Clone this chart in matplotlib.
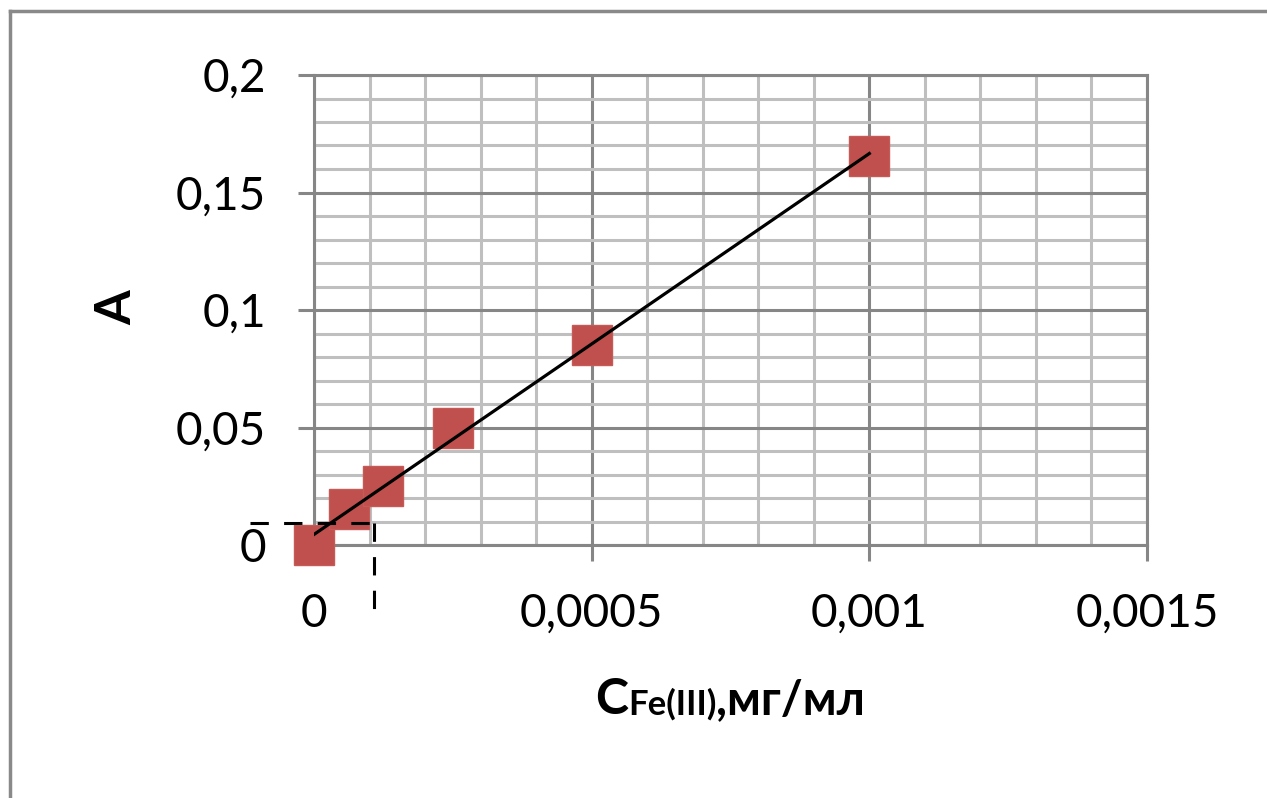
import numpy as np
import matplotlib
matplotlib.use("Agg")
import matplotlib.pyplot as plt
from matplotlib.lines import Line2D
from matplotlib.offsetbox import TextArea, HPacker, AnchoredOffsetbox

plt.rcParams['font.family'] = ['Lato', 'Open Sans', 'DejaVu Sans']

# calibration points
conc = [0, 0.0000625, 0.000125, 0.00025, 0.0005, 0.001]   # mg/ml
absorb = [0, 0.0153, 0.0253, 0.0498, 0.0851, 0.1655]

# read-off of the sample (dashed guide)
a_sample = 0.0094
c_sample = 0.000108

x_ticks = [0, 0.0005, 0.001, 0.0015]
x_labels = ['0', '0,0005', '0,001', '0,0015']
y_ticks = [0, 0.05, 0.1, 0.15, 0.2]
y_labels = ['0', '0,05', '0,1', '0,15', '0,2']

major_col = '#868686'
minor_col = '#BFBFBF'

fig = plt.figure(figsize=(12.67, 7.98), dpi=100)
ax = fig.add_axes([314/1267, 1 - 545/798, (1147-314)/1267, (545-75)/798])

ax.set_xlim(0, 0.0015)
ax.set_ylim(0, 0.2)

ax.set_xticks(x_ticks)
ax.set_xticklabels(x_labels)
ax.set_yticks(y_ticks)
ax.set_yticklabels(y_labels)
ax.set_xticks(np.arange(0, 0.0015001, 0.0001), minor=True)
ax.set_yticks(np.arange(0, 0.2001, 0.01), minor=True)

ax.grid(which='minor', color=minor_col, lw=2.2, zorder=0)
ax.grid(which='major', color=major_col, lw=2.2, zorder=0)
ax.set_axisbelow(True)
ax.tick_params(which='minor', length=0)
ax.tick_params(which='major', direction='out', length=11.5, width=2.2,
               color=major_col, labelsize=33, pad=23)
for s in ax.spines.values():
    s.set_color(major_col)
    s.set_linewidth(2.2)

# data points
ax.plot(conc, absorb, 's', color='#C0504D', ms=29, mec='#C65A57', mew=1,
        zorder=3, clip_on=False)

# linear trendline
k, b = np.polyfit(conc, absorb, 1)
xt = np.array([0, max(conc)])
ax.plot(xt, k * xt + b, color='black', lw=2.3, zorder=4)

# dashed guides to the sample point
ax.plot([-0.000115, c_sample], [a_sample, a_sample], '--', color='black',
        lw=2.2, dashes=(6, 5), zorder=5, clip_on=False)
ax.plot([c_sample, c_sample], [a_sample, -0.0328], '--', color='black',
        lw=2.2, dashes=(6, 5), zorder=5, clip_on=False)

# axis titles
fig.text(117/1267, 1 - 308/798, 'A', rotation=90, fontsize=36,
         fontweight='bold', ha='center', va='center')

parts = HPacker(children=[
    TextArea('C', textprops=dict(fontsize=36, fontweight='bold')),
    TextArea('Fe(III)', textprops=dict(fontsize=25, fontweight='bold')),
    TextArea(',мг/мл', textprops=dict(fontsize=34, fontweight='bold')),
], align='baseline', pad=0, sep=0)
box = AnchoredOffsetbox(loc='center', child=parts, frameon=False,
                        bbox_to_anchor=(730/1267, 1 - 700/798),
                        bbox_transform=fig.transFigure, pad=0, borderpad=0)
fig.add_artist(box)

# outer chart border (only top and left visible)
fig.add_artist(Line2D([10/1267, 10/1267], [0, 1 - 11/798], color='#898989',
                      lw=2.5, transform=fig.transFigure))
fig.add_artist(Line2D([10/1267, 1], [1 - 11/798, 1 - 11/798], color='#898989',
                      lw=2.5, transform=fig.transFigure))

fig.savefig('out.png', dpi=100)
